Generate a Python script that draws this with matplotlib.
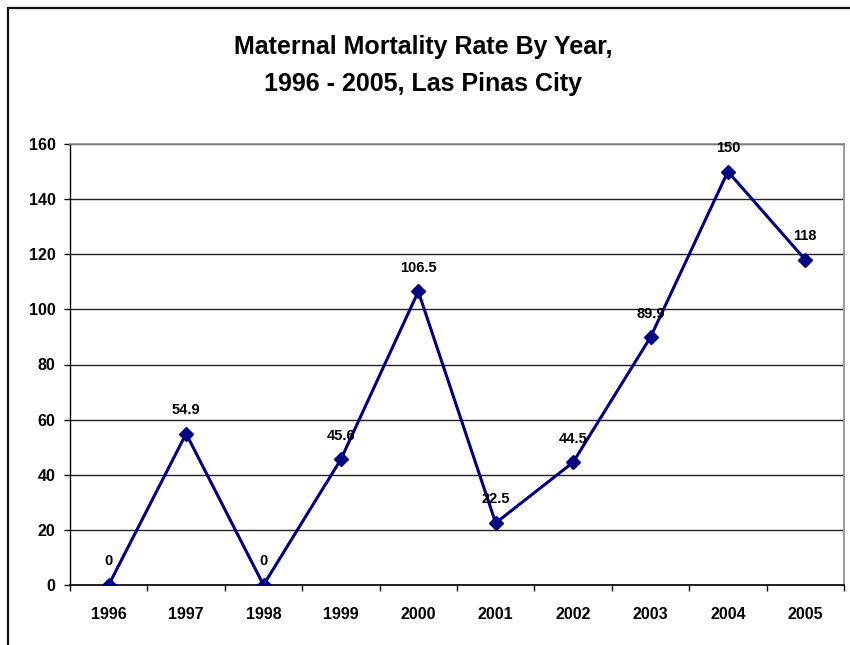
import matplotlib
matplotlib.use("Agg")
import matplotlib.pyplot as plt
from matplotlib.patches import Rectangle

plt.rcParams['font.family'] = ['Liberation Sans', 'DejaVu Sans']

years = ["1996", "1997", "1998", "1999", "2000", "2001", "2002", "2003", "2004", "2005"]
rates = [0, 54.9, 0, 45.6, 106.5, 22.5, 44.5, 89.9, 150, 118]
labels = ["0", "54.9", "0", "45.6", "106.5", "22.5", "44.5", "89.9", "150", "118"]
yticks = [0, 20, 40, 60, 80, 100, 120, 140, 160]
title = "Maternal Mortality Rate By Year,\n1996 - 2005, Las Pinas City"

DPI = 100
fig = plt.figure(figsize=(8.5, 6.45), dpi=DPI)
W, H = 850, 645

# figure border (left and top visible)
fig.add_artist(Rectangle((8 / W, -0.1), 1.2, (645 - 8) / H + 0.1, transform=fig.transFigure,
                         fill=False, edgecolor='#111111', linewidth=1.6))

ax = fig.add_axes([70 / W, (645 - 585) / H, (844 - 70) / W, (585 - 144) / H])
x = list(range(len(years)))
ax.plot(x, rates, color='#000080', linewidth=2.2, marker='D', markersize=7.5, zorder=3)

for xi, v, lab in zip(x, rates, labels):
    ax.annotate(lab, (xi, v), xytext=(0, 12), textcoords='offset points',
                ha='center', va='bottom', fontsize=10.5, fontweight='bold', color='black')

ax.set_xlim(-0.5, len(years) - 0.5)
ax.set_ylim(0, 160)
ax.set_yticks(yticks)
ax.set_yticklabels([str(t) for t in yticks])
ax.set_xticks(x)
ax.set_xticklabels(years)
ax.set_xticks([i - 0.5 for i in range(len(years) + 1)], minor=True)
ax.tick_params(axis='x', which='major', length=0, pad=15.5, labelsize=11.5)
ax.tick_params(axis='x', which='minor', length=4.5, width=1, direction='out', color='black')
ax.tick_params(axis='y', length=4.5, width=1, direction='out', pad=6, labelsize=11.5)
for lab in ax.get_xticklabels() + ax.get_yticklabels():
    lab.set_fontweight('bold')

ax.yaxis.grid(True, color='#222222', linewidth=1.0)
ax.set_axisbelow(True)
ax.spines['left'].set_color('black')
ax.spines['bottom'].set_color('black')
ax.spines['left'].set_linewidth(1.0)
ax.spines['bottom'].set_linewidth(1.2)
ax.spines['top'].set_color('#8c8c8c')
ax.spines['right'].set_color('#8c8c8c')
ax.spines['top'].set_linewidth(1.2)
ax.spines['right'].set_linewidth(1.2)

fig.text(423 / W, 1 - 65.5 / H, title, ha='center', va='center',
         fontsize=18, fontweight='bold', linespacing=1.68)

fig.savefig("out.png", dpi=DPI)
